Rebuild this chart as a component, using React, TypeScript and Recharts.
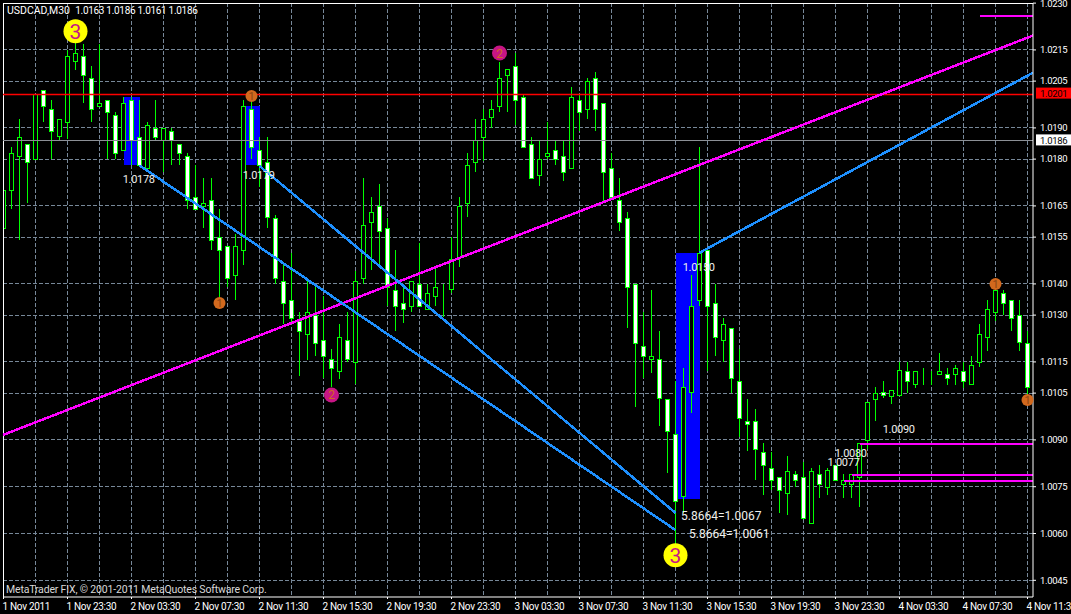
import {
  ComposedChart,
  Bar,
  XAxis,
  YAxis,
  CartesianGrid,
  ReferenceArea,
  ReferenceLine,
  ReferenceDot,
} from 'recharts';

// USDCAD M30 bars, oldest first
const opens = [
  1.0158, 1.017, 1.0181, 1.0185, 1.018, 1.0202, 1.0196, 1.01875, 1.0192, 1.02115,
  1.0213, 1.0206, 1.0197, 1.0199, 1.0194, 1.0183, 1.0199, 1.0187, 1.0177, 1.019,
  1.0186, 1.0189, 1.0185, 1.0181, 1.0168, 1.0165, 1.0167, 1.0155, 1.0152, 1.0143,
  1.0151, 1.0196, 1.0183, 1.0179, 1.0161, 1.0141, 1.0135, 1.0128, 1.0124, 1.013,
  1.0122, 1.0116, 1.0112, 1.0122, 1.0115, 1.0142, 1.016, 1.0165, 1.0158, 1.0138,
  1.0134, 1.0133, 1.014, 1.0132, 1.0136, 1.0138, 1.01385, 1.01485, 1.0166, 1.0179,
  1.0187, 1.01935, 1.0197, 1.0207, 1.021, 1.02, 1.0185, 1.0175, 1.0181, 1.0183,
  1.0181, 1.0177, 1.0199, 1.0196, 1.0206, 1.0198, 1.0177, 1.0167, 1.0161, 1.014,
  1.012, 1.0116, 1.0116, 1.0103, 1.0092, 1.0072, 1.01055, 1.0135, 1.0151, 1.0134,
  1.0122, 1.0126, 1.0109, 1.0096, 1.0096, 1.0086, 1.0081, 1.0078, 1.0073, 1.0079,
  1.0078, 1.00635, 1.0079, 1.0075, 1.0082, 1.0076, 1.0076, 1.0078, 1.009, 1.0103,
  1.01055, 1.0104, 1.01045, 1.0112, 1.0108, 1.01105, 1.0112, 1.0111, 1.0111, 1.0111,
  1.0112, 1.0108, 1.0115, 1.0123, 1.0131, 1.0137, 1.0135, 1.013, 1.0121,
];
const highs = [
  1.0174, 1.0184, 1.0193, 1.0185, 1.0201, 1.0202, 1.0199, 1.0193, 1.0215, 1.0218,
  1.0217, 1.021, 1.0217, 1.0199, 1.0195, 1.02, 1.02, 1.0199, 1.0192, 1.0199,
  1.019, 1.019, 1.0185, 1.0182, 1.0178, 1.0174, 1.0174, 1.0164, 1.0152, 1.0156,
  1.0199, 1.0201, 1.0187, 1.0187, 1.0162, 1.0146, 1.015, 1.0131, 1.0141, 1.0139,
  1.0136, 1.0119, 1.0127, 1.0131, 1.0144, 1.0174, 1.0168, 1.0172, 1.0161, 1.0151,
  1.0139, 1.0141, 1.0153, 1.014, 1.0145, 1.014, 1.0155, 1.0168, 1.0182, 1.0193,
  1.0196, 1.0199, 1.0211, 1.0209, 1.0214, 1.02005, 1.0187, 1.0186, 1.0192, 1.0186,
  1.0186, 1.0203, 1.0201, 1.0206, 1.0208, 1.0198, 1.0182, 1.0174, 1.0163, 1.014,
  1.0131, 1.0138, 1.0125, 1.0103, 1.0109, 1.0113, 1.0143, 1.0184, 1.0151, 1.014,
  1.0129, 1.0126, 1.0119, 1.0103, 1.01, 1.0089, 1.0086, 1.0078, 1.0085, 1.008,
  1.0083, 1.0081, 1.0082, 1.0081, 1.0082, 1.0079, 1.0079, 1.0089, 1.0102, 1.0107,
  1.0109, 1.0106, 1.0115, 1.0115, 1.0112, 1.0113, 1.0112, 1.0118, 1.0113, 1.0114,
  1.0115, 1.0117, 1.0127, 1.0135, 1.014, 1.0138, 1.0135, 1.0135, 1.0125,
];
const lows = [
  1.0151, 1.0164, 1.0154, 1.0166, 1.018, 1.0192, 1.018, 1.0186, 1.01865, 1.02085,
  1.0198, 1.0192, 1.0197, 1.018, 1.018, 1.0183, 1.0178, 1.0178, 1.0177, 1.0186,
  1.0176, 1.0178, 1.0178, 1.0164, 1.0164, 1.0158, 1.0151, 1.0135, 1.0139, 1.0135,
  1.0146, 1.018, 1.0171, 1.0158, 1.014, 1.0127, 1.0127, 1.01105, 1.01155, 1.0117,
  1.011, 1.0107, 1.01095, 1.0115, 1.0108, 1.014, 1.01445, 1.0145, 1.0133, 1.0125,
  1.01275, 1.0131, 1.0133, 1.0132, 1.0133, 1.01295, 1.0137, 1.01455, 1.01615, 1.0176,
  1.01795, 1.019, 1.0195, 1.0195, 1.0191, 1.0184, 1.0174, 1.01715, 1.018, 1.0178,
  1.0173, 1.0177, 1.0189, 1.0193, 1.0189, 1.0166, 1.0168, 1.0157, 1.0126, 1.01005,
  1.011, 1.01115, 1.00945, 1.00795, 1.0056, 1.00665, 1.00985, 1.0133, 1.0112, 1.0117,
  1.0115, 1.0105, 1.0091, 1.00865, 1.0077, 1.00725, 1.0074, 1.00665, 1.0066, 1.0075,
  1.0065, 1.00635, 1.00715, 1.00725, 1.0077, 1.00715, 1.00715, 1.00685, 1.0087, 1.0096,
  1.01035, 1.01015, 1.01045, 1.0105, 1.01065, 1.01075, 1.01075, 1.0111, 1.01075, 1.01075,
  1.01065, 1.0108, 1.01135, 1.01185, 1.0128, 1.013, 1.0125, 1.01185, 1.0102,
];
const closes = [
  1.017, 1.0182, 1.0187, 1.0179, 1.0201, 1.0197, 1.0189, 1.0193, 1.0213, 1.0214,
  1.0207, 1.0196, 1.0198, 1.0195, 1.0182, 1.0198, 1.0186, 1.0178, 1.0191, 1.0187,
  1.019, 1.0186, 1.0182, 1.0167, 1.0164, 1.0166, 1.0154, 1.0151, 1.0142, 1.0152,
  1.0197, 1.0184, 1.0178, 1.01615, 1.0142, 1.0134, 1.0129, 1.0125, 1.0131, 1.0121,
  1.0117, 1.0113, 1.0123, 1.0116, 1.0141, 1.0159, 1.0163, 1.0157, 1.0139, 1.0133,
  1.0132, 1.0141, 1.0133, 1.0137, 1.0139, 1.0138, 1.0148, 1.0165, 1.0178, 1.0186,
  1.0193, 1.0196, 1.0206, 1.0209, 1.0199, 1.0184, 1.0174, 1.018, 1.0182, 1.018,
  1.0176, 1.02, 1.0195, 1.0205, 1.0196, 1.0176, 1.0168, 1.016, 1.0139, 1.0121,
  1.0117, 1.0117, 1.01035, 1.0093, 1.00705, 1.0107, 1.0133, 1.015, 1.0133, 1.0123,
  1.0127, 1.011, 1.0097, 1.0095, 1.0087, 1.0082, 1.0077, 1.0074, 1.008, 1.0077,
  1.0065, 1.008, 1.0076, 1.00805, 1.0077, 1.0077, 1.0079, 1.0089, 1.0102, 1.0105,
  1.01045, 1.0106, 1.01125, 1.0109, 1.0112, 1.01105, 1.0112, 1.0112, 1.011, 1.0113,
  1.0109, 1.0114, 1.0124, 1.0132, 1.0138, 1.0134, 1.0129, 1.01215, 1.0107,
];

const bars = opens.map((open, i) => ({
  i,
  open,
  high: highs[i],
  low: lows[i],
  close: closes[i],
}));

const priceTicks = [
  1.023, 1.0215, 1.0205, 1.019, 1.018, 1.0165, 1.0155, 1.014, 1.013, 1.0115, 1.0105, 1.009,
  1.0075, 1.006, 1.0045,
];
const timeLabels = [
  '1 Nov 2011', '1 Nov 23:30', '2 Nov 03:30', '2 Nov 07:30', '2 Nov 11:30', '2 Nov 15:30',
  '2 Nov 19:30', '2 Nov 23:30', '3 Nov 03:30', '3 Nov 07:30', '3 Nov 11:30', '3 Nov 15:30',
  '3 Nov 19:30', '3 Nov 23:30', '4 Nov 03:30', '4 Nov 07:30', '4 Nov 11:30',
];
const labelBars = timeLabels.map((_, n) => n * 8);
const gridBars = Array.from({ length: 32 }, (_, n) => (n + 1) * 4);

// objects drawn on the chart, in bar index / price
const boxes = [
  [15, 17, 1.0178, 1.02],
  [30.34, 32, 1.0178, 1.0197],
  [84, 87, 1.0071, 1.015],
];
const blueLines = [
  [17, 1.0178, 84, 1.00611],
  [32, 1.01778, 84, 1.00666],
  [87, 1.015, 128.68, 1.02077],
];
const magentaRay = [-0.06, 1.00916, 128.68, 1.02196];
const levels = [
  [122, 1.0226],
  [107, 1.00888],
  [106, 1.00788],
  [105, 1.00769],
];
const askLine = 1.0201;
const bidLine = 1.0186;

const notes = [
  [14.9, 1.01736, '1.0178', 11],
  [29.9, 1.01747, '1.0179', 11],
  [84.9, 1.01453, '1.0150', 11],
  [84.7, 1.00657, '5.8664=1.0067', 12],
  [85.7, 1.00598, '5.8664=1.0061', 12],
  [109.9, 1.00934, '1.0090', 11],
  [103.9, 1.00856, '1.0080', 11],
  [103, 1.00828, '1.0077', 11],
] as const;

const waves = [
  [9, 1.0221, '3'],
  [84, 1.0053, '3'],
  [27, 1.01339, '1'],
  [31, 1.02002, '1'],
  [124, 1.014, '1'],
  [128, 1.01028, '1'],
  [62, 1.0214, '2'],
  [41, 1.01044, '2'],
] as const;

const waveStyle: Record<string, { r: number; fill: string; text: string; size: number }> = {
  '3': { r: 12, fill: '#ffff00', text: '#c71585', size: 21 },
  '2': { r: 7.5, fill: '#c71585', text: '#d2691e', size: 12 },
  '1': { r: 6, fill: '#d2691e', text: '#8b4513', size: 11 },
};

const xMin = -0.0625;
const xMax = 128.6875;
const yMin = 1.003965;
const yMax = 1.023004;
const plotLeft = 3;
const uiFont = 'Roboto, "Noto Sans", sans-serif';

function Candle(props: any) {
  const { x, y, width, height, payload } = props;
  const k = height / (payload.high - payload.low);
  const cx = Math.floor(x + width / 2) + 0.5;
  const yO = y + (payload.high - payload.open) * k;
  const yC = y + (payload.high - payload.close) * k;
  const top = Math.round(Math.min(yO, yC)) + 0.5;
  const bottom = Math.round(Math.max(yO, yC)) + 0.5;
  const up = payload.close >= payload.open;
  const left = Math.max(cx - 2, plotLeft - 0.5);
  return (
    <g shapeRendering="crispEdges">
      <line x1={cx} x2={cx} y1={y} y2={y + height} stroke="#00ff00" />
      <rect
        x={left}
        y={top}
        width={cx + 2 - left}
        height={bottom - top}
        fill={up ? '#000000' : '#ffffff'}
        stroke="#00ff00"
      />
    </g>
  );
}

function TimeTick(props: any) {
  const { x, y, payload } = props;
  return (
    <text
      x={x - 1}
      y={y + 5}
      dominantBaseline="central"
      fill="#ffffff"
      fontSize={10}
      letterSpacing={-0.3}
      fontFamily={uiFont}
    >
      {timeLabels[payload.value / 8]}
    </text>
  );
}

function PriceTag(props: any) {
  const { cx, cy, fill, color, value } = props;
  return (
    <g>
      <rect x={cx + 3} y={cy - 6} width={35} height={11} fill={fill} />
      <text
        x={cx + 7}
        y={cy}
        dominantBaseline="central"
        fill={color}
        fontSize={9.5}
        letterSpacing={-0.3}
        fontFamily={uiFont}
      >
        {value}
      </text>
    </g>
  );
}

// snapped to a pixel row, otherwise the 1px red goes dull
function AskLine(props: any) {
  const { x1, x2, y1 } = props;
  const y = Math.round(y1) + 0.5;
  return <line x1={x1} x2={x2} y1={y} y2={y} stroke="#ff0000" strokeWidth={1.5} />;
}

export default function App() {
  return (
    <div style={{ width: 1071, height: 614, background: '#000000', overflow: 'hidden' }}>
      <style>{'body{margin:0;background:#000}'}</style>
      <ComposedChart
        width={1071}
        height={614}
        data={bars}
        margin={{ top: 3, right: 0, bottom: 0, left: plotLeft }}
        style={{ background: '#000000' }}
      >
        <XAxis
          dataKey="i"
          type="number"
          domain={[xMin, xMax]}
          allowDataOverflow
          ticks={labelBars}
          interval={0}
          height={17}
          tickSize={2}
          tick={<TimeTick />}
          stroke="#ffffff"
        />
        <YAxis
          orientation="right"
          type="number"
          domain={[yMin, yMax]}
          allowDataOverflow
          ticks={priceTicks}
          interval={0}
          width={38}
          tickSize={3}
          tickMargin={4}
          tickFormatter={(v: number) => v.toFixed(4)}
          tick={{ fill: '#ffffff', fontSize: 9.5, fontFamily: uiFont, letterSpacing: -0.3 }}
          stroke="#ffffff"
        />

        {boxes.map(([x1, x2, y1, y2]) => (
          <ReferenceArea
            key={x1}
            x1={x1}
            x2={x2}
            y1={y1}
            y2={y2}
            fill="#0000ff"
            fillOpacity={1}
            stroke="none"
            shapeRendering="crispEdges"
          />
        ))}

        <CartesianGrid
          stroke="#778899"
          strokeDasharray="4 2"
          horizontalValues={priceTicks}
          verticalValues={gridBars}
          shapeRendering="crispEdges"
        />

        <ReferenceLine x={xMin} stroke="#ffffff" shapeRendering="crispEdges" />
        <ReferenceLine y={yMax} stroke="#ffffff" shapeRendering="crispEdges" />

        <Bar
          dataKey={(d: any) => [d.low, d.high]}
          barSize={5}
          shape={<Candle />}
          isAnimationActive={false}
        />

        <ReferenceLine
          segment={[
            { x: xMin, y: bidLine },
            { x: xMax, y: bidLine },
          ]}
          stroke="#8c9096"
          strokeWidth={1}
          shapeRendering="crispEdges"
        />
        <ReferenceLine
          segment={[
            { x: xMin, y: askLine },
            { x: xMax, y: askLine },
          ]}
          stroke="#ff0000"
          shape={<AskLine />}
        />

        <ReferenceLine
          segment={[
            { x: magentaRay[0], y: magentaRay[1] },
            { x: magentaRay[2], y: magentaRay[3] },
          ]}
          stroke="#ff00ff"
          strokeWidth={2.5}
          shapeRendering="crispEdges"
        />
        {blueLines.map(([x1, y1, x2, y2]) => (
          <ReferenceLine
            key={x1}
            segment={[
              { x: x1, y: y1 },
              { x: x2, y: y2 },
            ]}
            stroke="#1e90ff"
            strokeWidth={2.5}
            shapeRendering="crispEdges"
          />
        ))}
        {levels.map(([x1, y]) => (
          <ReferenceLine
            key={x1}
            segment={[
              { x: x1, y },
              { x: xMax, y },
            ]}
            stroke="#ff00ff"
            strokeWidth={2}
            shapeRendering="crispEdges"
          />
        ))}

        {notes.map(([x, y, text, size]) => (
          <ReferenceDot
            key={text + x}
            x={x}
            y={y}
            r={0}
            shape={(p: any) => (
              <text
                x={p.cx}
                y={p.cy}
                dominantBaseline="central"
                fill="#f0f0ec"
                fontSize={size}
                letterSpacing={size === 11 ? -0.3 : 0}
                fontFamily={uiFont}
              >
                {text}
              </text>
            )}
          />
        ))}

        {waves.map(([x, y, digit]) => {
          const s = waveStyle[digit];
          return (
            <ReferenceDot
              key={`${x}-${digit}`}
              x={x}
              y={y}
              shape={(p: any) => (
                <g>
                  <circle cx={p.cx} cy={p.cy} r={s.r} fill={s.fill} />
                  <text
                    x={p.cx}
                    y={p.cy + 0.5}
                    textAnchor="middle"
                    dominantBaseline="central"
                    fill={s.text}
                    fontSize={s.size}
                    fontFamily={uiFont}
                  >
                    {digit}
                  </text>
                </g>
              )}
            />
          );
        })}

        <ReferenceDot
          x={xMax}
          y={askLine}
          shape={(p: any) => <PriceTag {...p} fill="#ff0000" color="#000000" value="1.0201" />}
        />
        <ReferenceDot
          x={xMax}
          y={bidLine}
          shape={(p: any) => <PriceTag {...p} fill="#ffffff" color="#000000" value="1.0186" />}
        />
      </ComposedChart>

      <div
        style={{
          position: 'absolute',
          left: 7,
          top: 4,
          color: '#ffffff',
          fontSize: 10.5,
          lineHeight: '13px',
          fontFamily: uiFont,
          whiteSpace: 'pre',
        }}
      >
        USDCAD,M30{'  '}
        <span style={{ fontSize: 10, letterSpacing: -0.3 }}>1.0163 1.0186 1.0161 1.0186</span>
      </div>
      <div
        style={{
          position: 'absolute',
          left: 6,
          top: 583,
          color: '#d8d8d8',
          fontSize: 10.5,
          letterSpacing: -0.17,
          lineHeight: '13px',
          fontFamily: uiFont,
          whiteSpace: 'pre',
        }}
      >
        MetaTrader FIX, © 2001-2011 MetaQuotes Software Corp.
      </div>
    </div>
  );
}
